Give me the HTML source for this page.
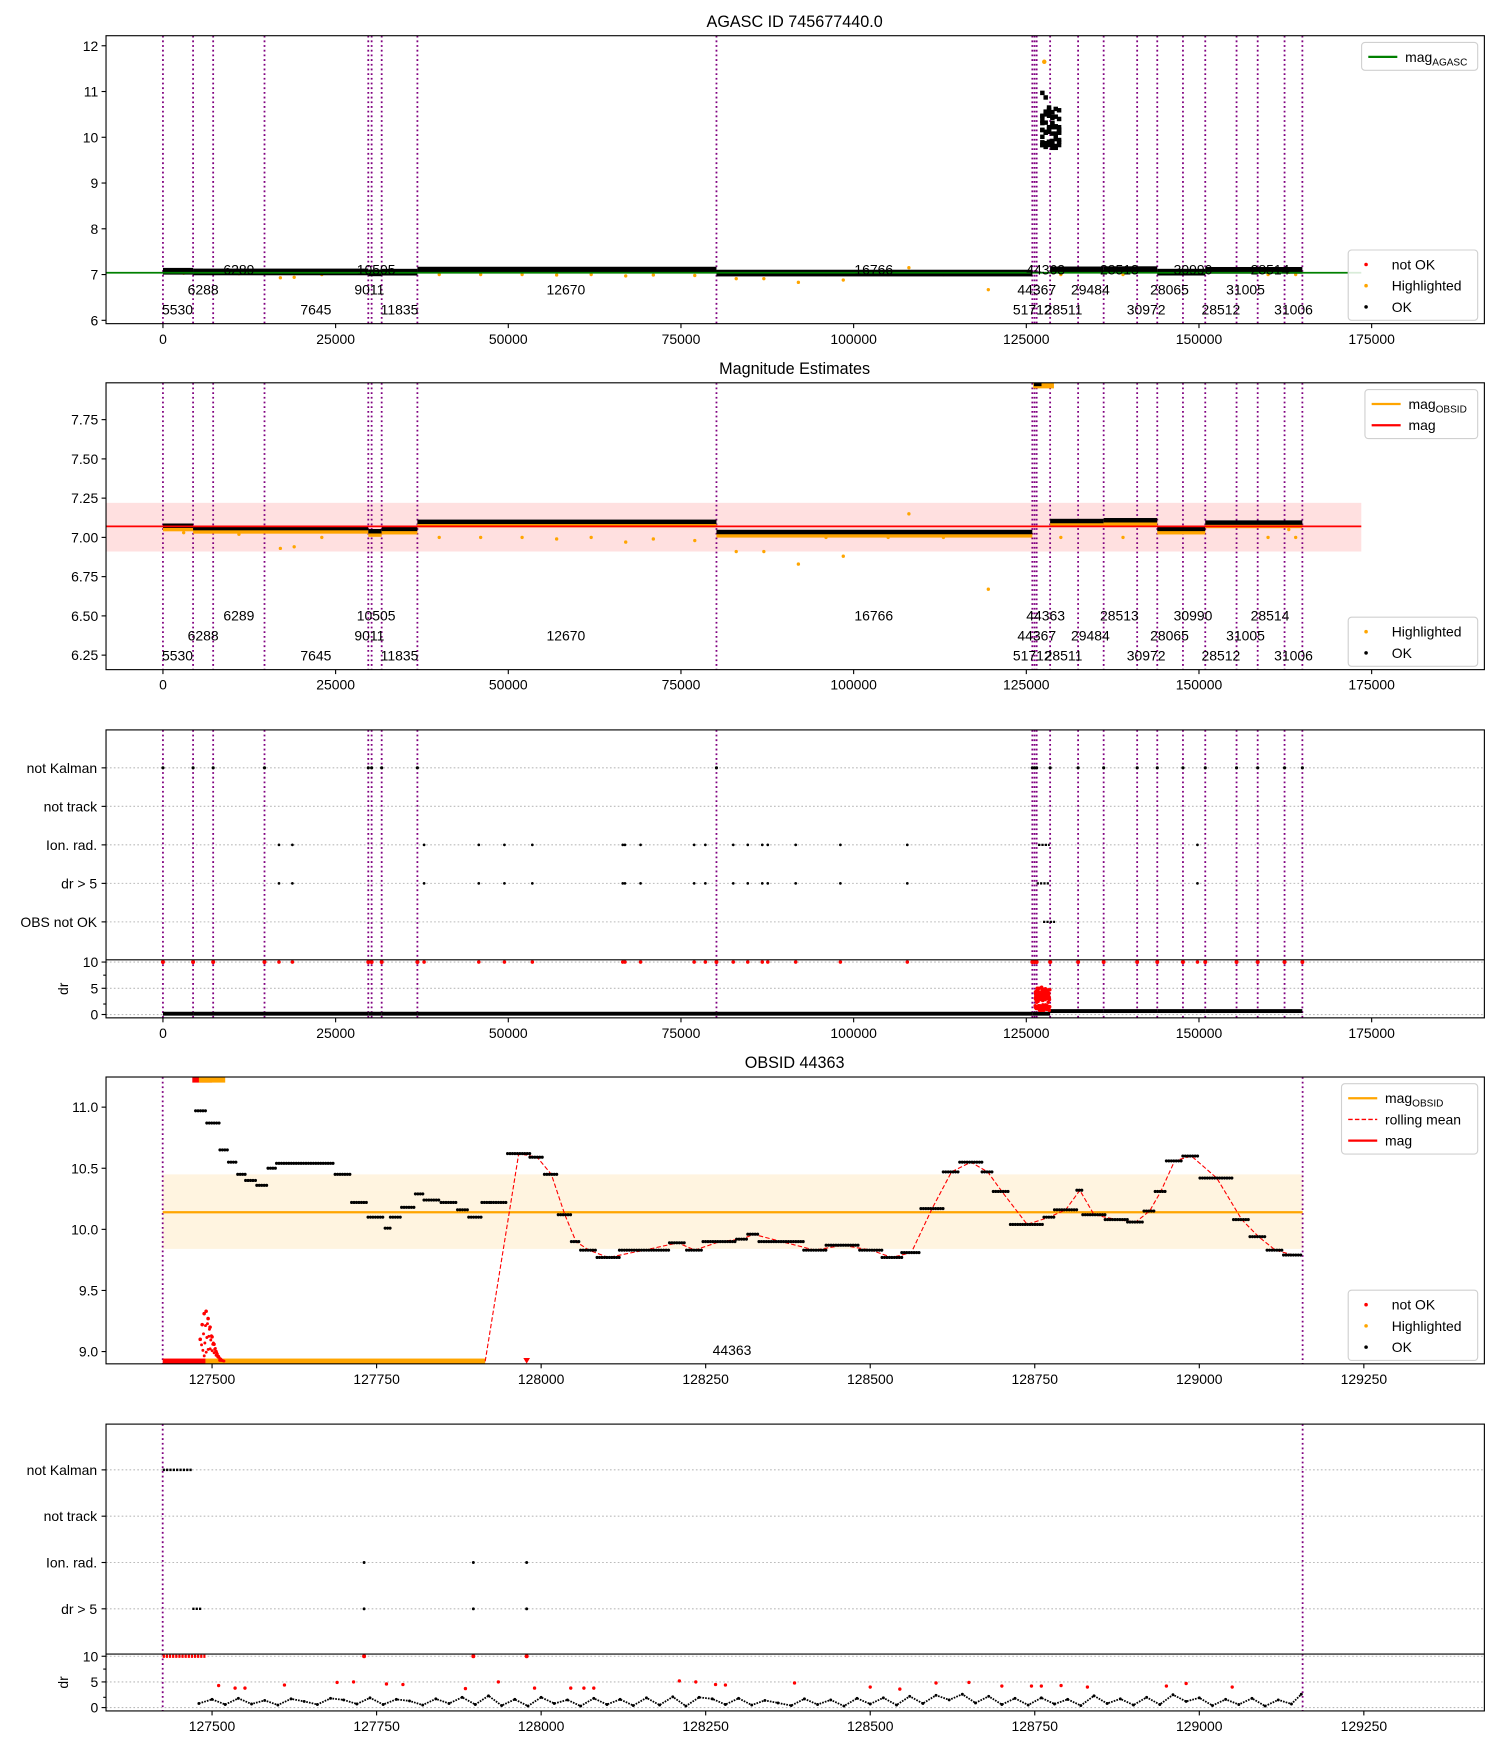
<!DOCTYPE html>
<html><head><meta charset="utf-8"><style>
html,body{margin:0;padding:0;background:#fff}
svg{display:block;font-family:"Liberation Sans","DejaVu Sans",sans-serif}
</style></head><body>
<svg id="fig" width="1500" height="1750" viewBox="0 0 1344 1568" preserveAspectRatio="none" xmlns="http://www.w3.org/2000/svg"></svg>
<script>
// ---------- data ----------
const obsStarts=[0,4363,7271,14704,29730,30215,31670,36840,80140,125870,126190,126500,128450,132500,136200,141050,143960,147680,150910,155440,158500,162390,164970];
const obsLabelText=["6289","10505","16766","44363","28513","30990","28514","6288","9011","12670","44367","29484","28065","31005","5530","7645","11835","51712","28511","30972","28512","31006"];
const obsLabelTime=[10990,30860,102920,127800,138470,149130,160280,5817,29890,58330,126510,134270,145740,156730,2100,22140,34250,125870,130390,142350,153170,163680];
const obsLabelRow=[0,0,0,0,0,0,0,1,1,1,1,1,1,1,2,2,2,2,2,2,2,2];
const segStart=[0,4363,29730,31670,36840,80140,128450,136200,143960,150910];
const segEnd=[4363,29730,31670,36840,80140,125870,136200,143960,150910,164970];
const segMag=[7.06,7.045,7.025,7.04,7.085,7.02,7.09,7.095,7.04,7.08];
const hlTime=[108000,92000,98500,119500,17000,19000,83000,87000,67000,77000,46000,52000,57000,62000,40000,23000,11000,130000,139000,160000,163000,164000,105000,113000,3000,71000,96000,125000];
const hlMag=[7.15,6.83,6.88,6.67,6.93,6.94,6.91,6.91,6.97,6.98,7.0,7.0,6.99,7.0,7.0,7.0,7.02,7.0,7.0,7.0,7.05,7.0,7.0,7.0,7.03,6.99,7.0,7.01];
const magAgasc=7.04, magMean=7.07, magLow=6.91, magHigh=7.22;
const flagTime=[16800,18740,37810,45730,49440,53480,66570,66890,69150,76910,78530,82570,84670,86770,87570,91610,98080,107770,149780];
// OBSID 44363 steps
const stepT0=[127475,127492,127512,127525,127539,127551,127568,127585,127598,127687,127712,127737,127763,127771,127788,127809,127822,127848,127873,127890,127910,127924,127949,127983,128005,128026,128046,128060,128085,128119,128195,128221,128246,128297,128314,128331,128399,128433,128484,128518,128548,128577,128611,128636,128670,128687,128713,128764,128780,128814,128823,128857,128891,128916,128933,128950,128975,129001,129052,129077,129103,129128];
const stepT1=[127492,127512,127525,127539,127551,127568,127585,127598,127687,127712,127737,127763,127771,127788,127809,127822,127848,127873,127890,127910,127924,127949,127983,128005,128026,128046,128060,128085,128119,128195,128221,128246,128297,128314,128331,128399,128433,128484,128518,128548,128577,128611,128636,128670,128687,128713,128764,128780,128814,128823,128857,128891,128916,128933,128950,128975,129001,129052,129077,129103,129128,129157];
const stepMag=[10.97,10.87,10.65,10.55,10.45,10.4,10.36,10.5,10.54,10.45,10.22,10.1,10.01,10.1,10.18,10.29,10.24,10.22,10.16,10.1,10.22,10.22,10.62,10.59,10.45,10.12,9.9,9.83,9.77,9.83,9.89,9.83,9.9,9.92,9.96,9.9,9.83,9.87,9.83,9.77,9.81,10.17,10.47,10.55,10.47,10.31,10.04,10.1,10.16,10.32,10.12,10.08,10.06,10.15,10.31,10.56,10.6,10.42,10.08,9.94,9.83,9.79];
const obsMag=10.14, obsLow=9.84, obsHigh=10.45;
const bumpTime=[127482,127485,127488,127491,127494,127497,127500,127503,127506,127509,127512];
const bumpMag=[9.1,9.22,9.31,9.33,9.27,9.2,9.12,9.06,9.0,8.96,8.93];
const floorMag=8.92;
const obsStart=127425, obsEnd=129157, badEnd=127490, hlEnd=127915;
const ionTime=[127485,127731,127897,127978];
const drTime=[127480,127500,127520,127540,127560,127580,127600,127620,127640,127660,127680,127700,127720,127740,127760,127780,127800,127820,127840,127860,127880,127900,127920,127940,127960,127980,128000,128020,128040,128060,128080,128100,128120,128140,128160,128180,128200,128220,128240,128260,128280,128300,128320,128340,128360,128380,128400,128420,128440,128460,128480,128500,128520,128540,128560,128580,128600,128620,128640,128660,128680,128700,128720,128740,128760,128780,128800,128820,128840,128860,128880,128900,128920,128940,128960,128980,129000,129020,129040,129060,129080,129100,129120,129140,129155];
const drVal=[0.8,1.6,0.6,1.8,0.7,1.4,0.5,1.7,1.2,0.6,1.8,1.5,0.7,1.9,0.6,1.6,1.3,0.5,1.7,0.8,2.0,0.6,2.3,0.4,1.6,0.3,2.0,0.8,1.5,0.3,1.8,0.6,1.6,0.4,1.9,0.5,2.1,0.3,2.0,1.7,0.6,1.8,0.5,1.4,0.9,0.4,1.7,0.6,1.5,0.3,1.8,0.7,1.9,0.5,2.2,0.8,2.4,1.5,2.6,0.9,2.2,0.6,1.8,0.5,1.9,0.7,1.6,0.4,2.3,0.8,1.7,0.5,2.0,0.6,2.5,1.2,1.9,0.4,1.6,0.6,1.8,0.3,1.5,0.7,2.6];
const drRedTime=[127510,127535,127550,127610,127690,127715,127765,127790,127885,127935,127990,128045,128065,128080,128210,128235,128265,128280,128385,128500,128545,128600,128650,128700,128745,128760,128790,128830,128950,128980,129050];
const drRedVal=[4.3,3.8,3.8,4.4,4.9,5.0,4.6,4.5,3.7,5.0,3.8,3.8,3.8,3.8,5.2,5.0,4.5,4.4,4.8,4.0,3.6,4.8,4.9,4.2,4.2,4.2,4.3,4.0,4.2,4.7,4.0];
const flagCats=["not Kalman","not track","Ion. rad.","dr > 5","OBS not OK"];
const tickWide=[0,25000,50000,75000,100000,125000,150000,175000];
const tickZoom=[127500,127750,128000,128250,128500,128750,129000,129250];
const ticksP1=[6,7,8,9,10,11,12];
const ticksP2=[6.25,6.5,6.75,7.0,7.25,7.5,7.75];
const ticksP4=[9.0,9.5,10.0,10.5,11.0];

// ---------- helpers ----------
const NS="http://www.w3.org/2000/svg";
const svg=document.getElementById('fig');
function mk(tag,attrs,parent){const e=document.createElementNS(NS,tag);for(const k in attrs)e.setAttribute(k,attrs[k]);(parent||svg).appendChild(e);return e;}
function txt(s,x,y,attrs,parent){const e=mk('text',Object.assign({x:x,y:y,'font-size':12.5,fill:'#000'},attrs||{}),parent);e.textContent=s;return e;}
function lin(d0,d1,r0,r1){return v=>r0+(v-d0)*(r1-r0)/(d1-d0);}
const L=95,R=1330;
const sxW=lin(0,175000,146,1229);
const sxZ=lin(127500,129250,190,1222);
function frame(top,bot,name){const f=mk('rect',{x:L,y:top,width:R-L,height:bot-top,fill:'none',stroke:'#000','stroke-width':1});}
function xticks(sx,ticks,bot,g){ticks.forEach(t=>{const x=sx(t);mk('line',{x1:x,x2:x,y1:bot,y2:bot+4,stroke:'#000'},g);const e=txt(t,x,bot+18,{'text-anchor':'middle'},g);});}
function yticks(sy,ticks,fmt,g){ticks.forEach(t=>{const y=sy(t);mk('line',{x1:L-4,x2:L,y1:y,y2:y,stroke:'#000'},g);const e=txt(fmt(t),L-7,y+4.5,{'text-anchor':'end'},g);});}
function vlines(sx,times,top,bot,g){times.forEach(t=>{const x=sx(t);const l=mk('line',{x1:x,x2:x,y1:top,y2:bot,stroke:'#800080','stroke-width':1.6,'stroke-dasharray':'1.6,2.6'},g);});}
function dot(x,y,r,c,g){return mk('circle',{cx:x,cy:y,r:r,fill:c},g);}
function legend(x,y,w,items,g){const h=items.length*19+6;const b=mk('rect',{x:x,y:y,width:w,height:h,rx:3,fill:'#fff','fill-opacity':0.85,stroke:'#d0d0d0'},g);
 items.forEach((it,i)=>{const cy=y+13+i*19;const gi=mk('g',{},g);
  if(it.kind==='dot')dot(x+16,cy,1.6,it.color,gi);else mk('line',{x1:x+6,x2:x+32,y1:cy,y2:cy,stroke:it.color,'stroke-width':it.dash?1.3:2,'stroke-dasharray':it.dash?'4,2':'none'},gi);
  const t=txt('',x+39,cy+4.5,{},gi);t.textContent=it.label;if(it.sub){const ts=mk('tspan',{'font-size':9,dy:3},t);ts.textContent=it.sub;}});}
function labels(sx,bot,g){obsLabelText.forEach((s,i)=>{const e=txt(s,sx(obsLabelTime[i]),bot-44+18*obsLabelRow[i],{'text-anchor':'middle'},g);});}
function clip(id,top,bot){const c=mk('clipPath',{id:id});mk('rect',{x:L,y:top,width:R-L,height:bot-top},c);}

// ---------- panel 1 ----------
(function(){const top=32,bot=290;const g=mk('g',{});
 clip('c1',top,bot);const sy=lin(6,12,287,41);const gc=mk('g',{'clip-path':'url(#c1)'},g);
 vlines(sxW,obsStarts,top,bot,gc);
 hlTime.forEach((t,i)=>{const e=dot(sxW(t),sy(hlMag[i]),1.5,'orange',gc);});
 segStart.forEach((s,i)=>{const e=mk('rect',{x:sxW(s),y:sy(segMag[i])-3.5,width:sxW(segEnd[i])-sxW(s),height:6,fill:'#000'},gc);});
 const ag=mk('line',{x1:L,x2:sxW(173500),y1:sy(magAgasc),y2:sy(magAgasc),stroke:'green','stroke-width':1.6},gc);
 stepT0.forEach((t,i)=>{const e=mk('rect',{x:sxW(127000)+ (i%6)*3,y:sy(stepMag[i])-2,width:4,height:4,fill:'#000'},gc);});
 dot(sxW(127600),sy(11.65),2,'orange',gc);
 labels(sxW,bot,g);
 frame(top,bot,'agasc-axes');xticks(sxW,tickWide,bot,g);yticks(sy,ticksP1,v=>v,g);
 const t=txt('AGASC ID 745677440.0',712,24,{'text-anchor':'middle','font-size':14.5},g);
 legend(1220,38,104,[{kind:'line',color:'green',label:'mag',sub:'AGASC'}],g);
 legend(1208,224,116,[{kind:'dot',color:'red',label:'not OK'},{kind:'dot',color:'orange',label:'Highlighted'},{kind:'dot',color:'#000',label:'OK'}],g);
})();

// ---------- panel 2 ----------
(function(){const top=343,bot=600;const g=mk('g',{});
 clip('c2',top,bot);const sy=lin(7.75,6.25,376,587);const gc=mk('g',{'clip-path':'url(#c2)'},g);
 const band=mk('rect',{x:L,y:sy(magHigh),width:sxW(173500)-L,height:sy(magLow)-sy(magHigh),fill:'#ff0000','fill-opacity':0.12},gc);
 vlines(sxW,obsStarts,top,bot,gc);
 hlTime.forEach((t,i)=>{const e=dot(sxW(t),sy(hlMag[i]),1.5,'orange',gc);});
 segStart.forEach((s,i)=>{mk('rect',{x:sxW(s),y:sy(segMag[i])-1,width:sxW(segEnd[i])-sxW(s),height:4,fill:'orange'},gc);
   const e=mk('rect',{x:sxW(s),y:sy(segMag[i])-4,width:sxW(segEnd[i])-sxW(s),height:4,fill:'#000'},gc);});
 mk('rect',{x:sxW(126000),y:top,width:sxW(129000)-sxW(126000),height:5,fill:'orange'},gc);
 mk('rect',{x:sxW(126100),y:top,width:sxW(127200)-sxW(126100),height:3,fill:'#000'},gc);
 const ml=mk('line',{x1:L,x2:sxW(173500),y1:sy(magMean),y2:sy(magMean),stroke:'red','stroke-width':1.5},gc);
 labels(sxW,bot,g);
 frame(top,bot,'estimates-axes');xticks(sxW,tickWide,bot,g);yticks(sy,ticksP2,v=>v.toFixed(2),g);
 const t=txt('Magnitude Estimates',712,335,{'text-anchor':'middle','font-size':14.5},g);
 legend(1223,349,101,[{kind:'line',color:'orange',label:'mag',sub:'OBSID'},{kind:'line',color:'red',label:'mag'}],g);
 legend(1208,553,116,[{kind:'dot',color:'orange',label:'Highlighted'},{kind:'dot',color:'#000',label:'OK'}],g);
})();

// ---------- flags panels ----------
function flagsPanel(o){const g=mk('g',{});
 const cy=i=>o.catY0+o.catDy*i;const sdr=lin(0,10,o.dr0,o.dr10);
 flagCats.forEach((c,i)=>{if(i>=o.ncat)return;mk('line',{x1:L,x2:R,y1:cy(i),y2:cy(i),stroke:'#bbb','stroke-dasharray':'1.5,2'},g);mk('line',{x1:L-4,x2:L,y1:cy(i),y2:cy(i),stroke:'#000'},g);
   const e=txt(c,L-8,cy(i)+4.5,{'text-anchor':'end'},g);});
 [0,5,10].forEach(v=>{mk('line',{x1:L,x2:R,y1:sdr(v),y2:sdr(v),stroke:'#bbb','stroke-dasharray':'1.5,2'},g);mk('line',{x1:L-4,x2:L,y1:sdr(v),y2:sdr(v),stroke:'#000'},g);txt(v,L-7,sdr(v)+4.5,{'text-anchor':'end'},g);});
 mk('line',{x1:L-2.5,x2:L,y1:sdr(2),y2:sdr(2),stroke:'#000'},g);mk('line',{x1:L-2.5,x2:L,y1:sdr(7.5),y2:sdr(7.5),stroke:'#000'},g);
 const yl=txt('dr',0,0,{'text-anchor':'middle',transform:`translate(${L-34},${(o.mid+o.bot)/2}) rotate(-90)`},g);
 vlines(o.sx,o.lines,o.top,o.bot,g);
 o.draw(g,cy,sdr);
 mk('line',{x1:L,x2:R,y1:o.mid,y2:o.mid,stroke:'#000','stroke-width':1});
 frame(o.top,o.bot,o.name+'-axes');xticks(o.sx,o.ticks,o.bot,g);}

flagsPanel({name:'flags-overview-panel',top:654,mid:860,bot:912,catY0:688,catDy:34.5,ncat:5,dr0:909,dr10:862,sx:sxW,lines:obsStarts,ticks:tickWide,
 draw:(g,cy,sdr)=>{
  obsStarts.forEach(t=>{const e=dot(sxW(t),cy(0),1.4,'#000',g);dot(sxW(t),sdr(10),1.8,'red',g);});
  flagTime.forEach(t=>{const a=dot(sxW(t),cy(2),1.2,'#000',g);const b=dot(sxW(t),cy(3),1.2,'#000',g);dot(sxW(t),sdr(10),1.6,'red',g);});
  mk('line',{x1:sxW(126700),x2:sxW(128400),y1:cy(2),y2:cy(2),stroke:'#000','stroke-width':2,'stroke-dasharray':'2,1'},g);
  mk('line',{x1:sxW(126500),x2:sxW(128400),y1:cy(3),y2:cy(3),stroke:'#000','stroke-width':2,'stroke-dasharray':'2,1'},g);
  const ob=mk('line',{x1:sxW(obsStart),x2:sxW(obsEnd),y1:cy(4),y2:cy(4),stroke:'#000','stroke-width':2,'stroke-dasharray':'2,1'},g);
  segStart.forEach((s,i)=>{const lvl=s<126000?0.1:0.6;mk('rect',{x:sxW(s),y:sdr(lvl)-2,width:sxW(segEnd[i])-sxW(s),height:3.5,fill:'#000'},g);});
  mk('rect',{x:sxW(125870),y:sdr(0.1)-2,width:sxW(128450)-sxW(125870),height:3.5,fill:'#000'},g);
  drTime.forEach((t,i)=>{const x=sxW(126300+(t-127480)*1.25);dot(x,sdr(drVal[i]*1.7+0.3),1.6,'red',g);});
  drRedTime.forEach((t,i)=>{dot(sxW(126300+(t-127480)*1.25),sdr(drRedVal[i]),1.6,'red',g);});
 }});

// ---------- panel 4 ----------
(function(){const top=965,bot=1222;const g=mk('g',{});
 clip('c4',top,bot);const sy=lin(11,9,992,1211);const gc=mk('g',{'clip-path':'url(#c4)'},g);
 const band=mk('rect',{x:sxZ(obsStart),y:sy(obsHigh),width:sxZ(obsEnd)-sxZ(obsStart),height:sy(obsLow)-sy(obsHigh),fill:'orange','fill-opacity':0.12},gc);
 vlines(sxZ,[obsStart,obsEnd],top,bot,gc);
 const ml=mk('line',{x1:sxZ(obsStart),x2:sxZ(obsEnd),y1:sy(obsMag),y2:sy(obsMag),stroke:'orange','stroke-width':2},gc);
 const rf=mk('rect',{x:sxZ(obsStart),y:sy(floorMag)-2.5,width:sxZ(badEnd)-sxZ(obsStart),height:5,fill:'red'},gc);
 const of=mk('rect',{x:sxZ(badEnd),y:sy(floorMag)-2.5,width:sxZ(hlEnd)-sxZ(badEnd),height:5,fill:'orange'},gc);
 bumpTime.forEach((t,i)=>{const e=dot(sxZ(t),sy(bumpMag[i]),1.6,'red',gc);
   for(let k=0;k<4;k++)dot(sxZ(t)+k*1.2,sy(bumpMag[i]-(bumpMag[i]-floorMag)*k/4),1.3,'red',gc);});
 const tx=sxZ(ionTime[3]);
 mk('polygon',{points:`${tx-3},${sy(floorMag)-3} ${tx+3},${sy(floorMag)-3} ${tx},${sy(floorMag)+2}`,fill:'red'},gc);
 mk('rect',{x:sxZ(127470),y:top,width:sxZ(127500)-sxZ(127470),height:5,fill:'red'},gc);
 mk('rect',{x:sxZ(127480),y:top,width:sxZ(127520)-sxZ(127480),height:5,fill:'orange'},gc);
 let pts=[[sxZ(hlEnd),sy(floorMag)]];
 stepT0.forEach((t,i)=>{if(t>=127949)pts.push([sxZ((t+stepT1[i])/2),sy(stepMag[i])]);});
 const rm=mk('polyline',{points:pts.map(p=>p.join(',')).join(' '),fill:'none',stroke:'red','stroke-width':1,'stroke-dasharray':'4,2'},gc);
 stepT0.forEach((t,i)=>{const x0=sxZ(t),x1=sxZ(stepT1[i]);for(let x=x0;x<=x1;x+=2.2){const e=dot(x,sy(stepMag[i]),1.4,'#000',gc);}});
 const lb=txt('44363',sxZ(128290),1214,{'text-anchor':'middle'},g);
 frame(top,bot,'obsid-axes');xticks(sxZ,tickZoom,bot,g);yticks(sy,ticksP4,v=>v.toFixed(1),g);
 const t=txt('OBSID 44363',712,957,{'text-anchor':'middle','font-size':14.5},g);
 legend(1202,971,122,[{kind:'line',color:'orange',label:'mag',sub:'OBSID'},{kind:'line',color:'red',dash:true,label:'rolling mean'},{kind:'line',color:'red',label:'mag'}],g);
 legend(1208,1156,116,[{kind:'dot',color:'red',label:'not OK'},{kind:'dot',color:'orange',label:'Highlighted'},{kind:'dot',color:'#000',label:'OK'}],g);
})();

// ---------- panel 5 ----------
flagsPanel({name:'flags-obsid-panel',top:1276,mid:1482,bot:1533,catY0:1317,catDy:41.5,ncat:4,dr0:1530,dr10:1484,sx:sxZ,lines:[obsStart,obsEnd],ticks:tickZoom,
 draw:(g,cy,sdr)=>{
  const nk=mk('line',{x1:sxZ(obsStart),x2:sxZ(127470),y1:cy(0),y2:cy(0),stroke:'#000','stroke-width':2.2,'stroke-dasharray':'2,1'},g);
  mk('line',{x1:sxZ(obsStart),x2:sxZ(badEnd),y1:sdr(10),y2:sdr(10),stroke:'red','stroke-width':3,'stroke-dasharray':'2,0.8'},g);
  mk('line',{x1:sxZ(127470),x2:sxZ(127485),y1:cy(3),y2:cy(3),stroke:'#000','stroke-width':2.2,'stroke-dasharray':'2,1'},g);
  ionTime.slice(1).forEach(t=>{const a=dot(sxZ(t),cy(2),1.3,'#000',g);const b=dot(sxZ(t),cy(3),1.3,'#000',g);dot(sxZ(t),sdr(10),1.8,'red',g);});
  const pts=drTime.map((t,i)=>sxZ(t)+','+sdr(drVal[i])).join(' ');
  mk('polyline',{points:pts,fill:'none',stroke:'#000','stroke-width':1.6,'stroke-dasharray':'1.5,1'},g);
  drTime.forEach((t,i)=>{const e=dot(sxZ(t),sdr(drVal[i]),1.3,'#000',g);});
  drRedTime.forEach((t,i)=>{const e=dot(sxZ(t),sdr(drRedVal[i]),1.5,'red',g);});
 }});
</script>
</body></html>
